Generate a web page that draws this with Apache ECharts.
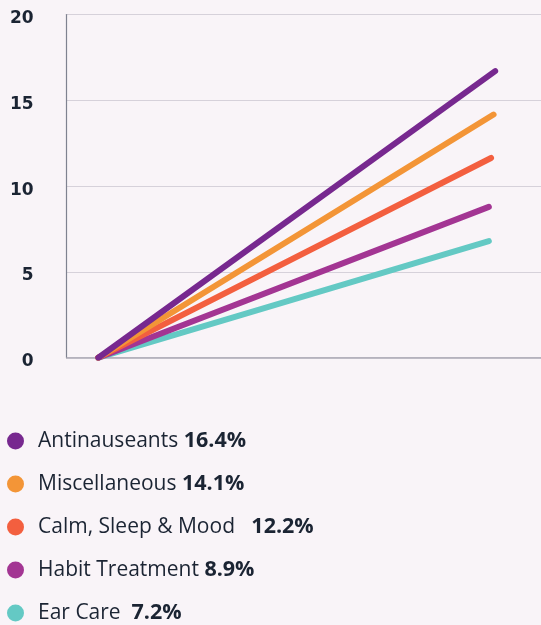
<!DOCTYPE html>
<html>
<head>
<meta charset="utf-8">
<script src="https://cdn.jsdelivr.net/npm/echarts@6/dist/echarts.min.js"></script>
<style>
html,body{margin:0;padding:0;background:#f9f4f8;}
#chart{width:541px;height:625px;}
</style>
</head>
<body>
<div id="chart"></div>
<script>
// Data
const seriesNames = ["Antinauseants", "Miscellaneous", "Calm, Sleep & Mood", "Habit Treatment", "Ear Care"];
const shareLabels = ["16.4%", "14.1%", "12.2%", "8.9%", "7.2%"];
const labelGaps = [" ", " ", "   ", " ", "  "];
const startX = [1, 1, 1, 1, 1];
const startY = [0, 0, 0, 0, 0];
const endX = [13.55, 13.5, 13.42, 13.35, 13.35];
const endY = [16.7, 14.17, 11.64, 8.79, 6.79];
const colors = ["#77288f", "#f39537", "#f35f3f", "#a33593", "#64c9c4"];
const yTicks = [0, 5, 10, 15, 20];

const chart = echarts.init(document.getElementById('chart'), null, {renderer: 'canvas'});

const series = seriesNames.map((name, i) => ({
  name: name,
  type: 'line',
  data: [[startX[i], startY[i]], [endX[i], endY[i]]],
  showSymbol: false,
  symbol: 'circle',
  z: 10 - i,
  color: colors[i],
  lineStyle: {width: 6, color: colors[i], cap: 'round'},
  emphasis: {disabled: true},
  silent: true
}));

chart.setOption({
  animation: false,
  backgroundColor: '#f9f4f8',
  grid: {left: 66.7, right: 0, top: 14.5, bottom: 267.3, containLabel: false},
  xAxis: {
    type: 'value', min: 0, max: 15,
    axisLine: {show: true, onZero: false, lineStyle: {color: '#aba8b4', width: 1.5}},
    axisTick: {show: false}, axisLabel: {show: false}, splitLine: {show: false}
  },
  yAxis: {
    type: 'value', min: yTicks[0], max: yTicks[yTicks.length - 1], interval: 5,
    axisLine: {show: true, lineStyle: {color: '#7f8290', width: 1.2}},
    axisTick: {show: false},
    splitLine: {show: true, lineStyle: {color: '#d6d1da', width: 1}},
    axisLabel: {
      margin: 33, color: '#1b2433', fontFamily: 'DejaVu Sans', fontWeight: 'bold', fontSize: 17,
      verticalAlign: 'top', lineHeight: 8
    }
  },
  legend: {
    orient: 'vertical', left: 7, top: 430, padding: 0,
    itemWidth: 17, itemHeight: 17, itemGap: 21,
    icon: 'circle',
    selectedMode: false,
    data: seriesNames,
    formatter: function (name) {
      const i = seriesNames.indexOf(name);
      return '{n|' + name + labelGaps[i] + '}{v|' + shareLabels[i] + '}';
    },
    textStyle: {
      color: '#1b2433', fontFamily: 'Open Sans', fontSize: 21, lineHeight: 22,
      padding: [0, 0, 0, 9],
      rich: {
        n: {color: '#1b2433', fontFamily: 'Open Sans', fontSize: 21, fontWeight: 'normal', lineHeight: 22},
        v: {color: '#1b2433', fontFamily: 'Open Sans', fontSize: 21.5, fontWeight: 'bold', lineHeight: 22}
      }
    }
  },
  series: series
});
</script>
</body>
</html>
